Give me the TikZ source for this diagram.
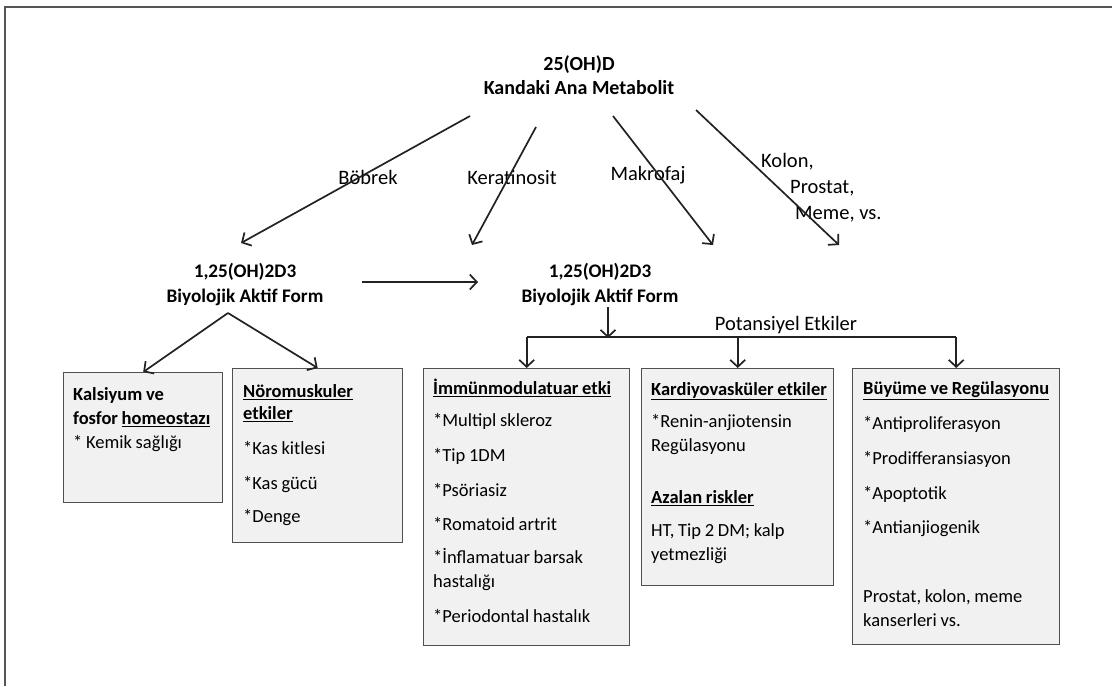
\documentclass[tikz,border=0pt]{standalone}
\usepackage{fontspec}
\setmainfont{Carlito}
\usetikzlibrary{arrows.meta}

\definecolor{panelgray}{HTML}{F1F1F2}
\definecolor{edgegray}{HTML}{505050}
\definecolor{inkgray}{HTML}{222222}
\definecolor{framegray}{HTML}{555555}

\begin{document}
\begin{tikzpicture}[x=1pt,y=-1pt,
head/.style={font=\fontsize{20}{24}\selectfont\bfseries,align=center,inner sep=0pt},
form/.style={font=\fontsize{19.2}{25}\selectfont\bfseries,align=center,inner sep=0pt},
edgelabel/.style={font=\fontsize{20.5}{26}\selectfont,inner sep=0pt},
panel/.style={draw=edgegray,line width=1.4pt,fill=panelgray,anchor=north west,inner sep=0pt},
paneltext/.style={anchor=north west,inner sep=0pt,align=left,font=\fontsize{18.5}{24}\selectfont,
  execute at begin node={\spaceskip=0.2em plus 0.05em minus 0.05em\relax\rule{0pt}{15pt}}},
arrow/.style={-{Straight Barb[length=7pt,width=15pt]},line width=1.7pt,draw=inkgray},
link/.style={line width=1.7pt,draw=inkgray}]

\useasboundingbox (0,0) rectangle (1112,686);
\draw[line width=2pt,draw=framegray] (5,686) -- (5,7) -- (1112,7);

% top and the two forms
\node[head] (meta) at (579,75) {25(OH)D\\Kandaki Ana Metabolit};

\node[form] (formL) at (245,284) {1,25(OH)2D3\\Biyolojik Aktif Form};

\node[form] (formR) at (600,284) {1,25(OH)2D3\\Biyolojik Aktif Form};

% edge labels
\node[edgelabel] (bobrek) at (368,177) {Böbrek};

\node[edgelabel] (kerat) at (512,177) {Keratinosit};

\node[edgelabel] (makro) at (648,175) {Makrofaj};

\node[edgelabel,anchor=north west,align=left] (kolon) at (761,153) {Kolon,\\\hspace{29pt}Prostat,\\\hspace{34pt}Meme, vs.};

\node[edgelabel] (potans) at (786,325) {Potansiyel Etkiler};

% boxes
\node[panel,minimum width=159pt,minimum height=130pt] (kals) at (63,372) {};
\node[panel,minimum width=170pt,minimum height=174pt] (noro) at (232,368) {};
\node[panel,minimum width=206pt,minimum height=277pt] (immun) at (423,368) {};
\node[panel,minimum width=192pt,minimum height=217pt] (kardiyo) at (641,368) {};
\node[panel,minimum width=207pt,minimum height=276pt] (buyume) at (852,368) {};

\node[paneltext,text width=145pt] (kals-t) at ([shift={(10,13)}]kals.north west)
  {\textbf{Kalsiyum ve}\\\textbf{fosfor \underline{homeostazı}}\\\relax* Kemik sağlığı};

\node[paneltext,text width=155pt] (noro-t) at ([shift={(11,14)}]noro.north west)
  {\textbf{\underline{Nöromuskuler}}\\[-2pt]\textbf{\underline{etkiler}}\\[11pt]*Kas kitlesi\\[11pt]*Kas gücü\\[9pt]*Denge};

\node[paneltext,text width=192pt] (immun-t) at ([shift={(10,11)}]immun.north west)
  {\textbf{\underline{İmmünmodulatuar etki}}\\[8pt]*Multipl skleroz\\[11pt]*Tip 1DM\\[11pt]*Psöriasiz\\[10pt]*Romatoid artrit\\[9pt]*İnflamatuar barsak\\hastalığı\\[11pt]*Periodontal hastalık};

\node[paneltext,text width=180pt] (kardiyo-t) at ([shift={(10,12)}]kardiyo.north west)
  {\textbf{\underline{Kardiyovasküler etkiler}}\\[8pt]*Renin-anjiotensin\\Regülasyonu\\[28pt]\textbf{\underline{Azalan riskler}}\\[9pt]HT, Tip 2 DM; kalp\\yetmezliği};

\node[paneltext,text width=195pt] (buyume-t) at ([shift={(11,11)}]buyume.north west)
  {\textbf{\underline{Büyüme ve Regülasyonu}}\\[11pt]*Antiproliferasyon\\[11pt]*Prodifferansiasyon\\[11pt]*Apoptotik\\[10pt]*Antianjiogenik\\[45pt]Prostat, kolon, meme\\kanserleri vs.};

% free ends
\coordinate (bob-s) at (470,116);
\coordinate (bob-e) at (241,243);
\coordinate (ker-s) at (536,127);
\coordinate (ker-e) at (472,245);
\coordinate (mak-s) at (613,116);
\coordinate (mak-e) at (713,245);
\coordinate (kol-s) at (696,110);
\coordinate (kol-e) at (839,245);
\coordinate (hl-s) at (362,282);
\coordinate (hl-e) at (478,282);
\coordinate (lsplit) at (228,313);
\coordinate (rsplit) at (608,307);
\coordinate (bar) at (608,337);

\draw[arrow] (bob-s) -- (bob-e);
\draw[arrow] (ker-s) -- (ker-e);
\draw[arrow] (mak-s) -- (mak-e);
\draw[arrow] (kol-s) -- (kol-e);

\draw[arrow] (hl-s) -- (hl-e);

\draw[arrow] (lsplit) -- (kals.north);
\draw[arrow] (lsplit) -- (noro.north);

\draw[arrow] (rsplit) -- ([yshift=-1pt]bar);
\draw[link] (bar -| immun.north) -- (bar -| buyume.north);
\draw[arrow] (bar -| immun.north) -- (immun.north);
\draw[arrow] (bar -| kardiyo.north) -- (kardiyo.north);
\draw[arrow] (bar -| buyume.north) -- (buyume.north);

\end{tikzpicture}
\end{document}
